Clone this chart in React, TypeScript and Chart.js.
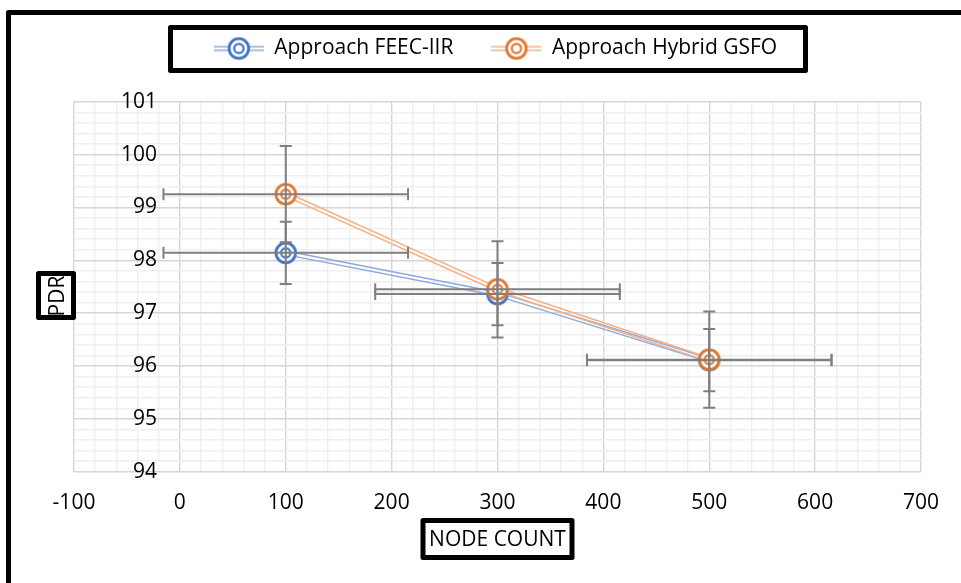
import { useEffect, useRef } from 'react';
import { Chart, registerables } from 'chart.js';

Chart.register(...registerables);

// ---- data ----
const NODE_COUNTS = [100, 300, 500];
const SERIES_NAMES = ['Approach FEEC-IIR', 'Approach Hybrid GSFO'];
const PDR_FEEC = [98.14, 97.36, 96.11];
const PDR_HYBRID = [99.25, 97.45, 96.12];
const X_ERR_FEEC = [115.5, 115.5, 115.5];
const X_ERR_HYBRID = [115.5, 115.5, 115.5];
const Y_ERR_FEEC = [0.59, 0.59, 0.59];
const Y_ERR_HYBRID = [0.91, 0.91, 0.91];
const X_TITLE = 'NODE COUNT';
const Y_TITLE = 'PDR';
const X_MIN = -100;
const X_MAX = 700;
const X_MAJOR = 100;
const X_MINOR = 20;
const Y_MIN = 94;
const Y_MAX = 101;
const Y_MAJOR = 1;
const Y_MINOR = 0.2;

// ---- styles ----
const FONT = "'Open Sans', sans-serif";
const FONT_SIZE = 21;
const RING = ['#4472C4', '#E0762F'];
const LINE = ['#8EA9DB', '#F4B183'];
const ERR_COLOR = '#7F7F7F';
const GRID_MAJOR = '#D6D6D6';
const GRID_MINOR = '#EFEFEF';

const SERIES = [PDR_FEEC, PDR_HYBRID];
const X_ERRS = [X_ERR_FEEC, X_ERR_HYBRID];
const Y_ERRS = [Y_ERR_FEEC, Y_ERR_HYBRID];

function isMajor(v: number, step: number) {
  const r = v / step;
  return Math.abs(r - Math.round(r)) < 1e-6;
}

function makeMarker(color: string) {
  const c = document.createElement('canvas');
  c.width = 28;
  c.height = 28;
  const g = c.getContext('2d')!;
  g.fillStyle = '#FFFFFF';
  g.beginPath();
  g.arc(14, 14, 11, 0, Math.PI * 2);
  g.fill();
  g.strokeStyle = color;
  g.lineWidth = 2.8;
  g.beginPath();
  g.arc(14, 14, 9.8, 0, Math.PI * 2);
  g.stroke();
  g.lineWidth = 2.2;
  g.beginPath();
  g.arc(14, 14, 4.7, 0, Math.PI * 2);
  g.stroke();
  return c;
}

function makeLegendIcon(lineColor: string, marker: HTMLCanvasElement) {
  const c = document.createElement('canvas');
  c.width = 50;
  c.height = 28;
  const g = c.getContext('2d')!;
  g.strokeStyle = lineColor;
  g.lineWidth = 1.5;
  [-1.8, 1.8].forEach((d) => {
    g.beginPath();
    g.moveTo(0, 14 + d);
    g.lineTo(50, 14 + d);
    g.stroke();
  });
  g.drawImage(marker, 11, 0);
  return c;
}

function offsetPoints(pts: { x: number; y: number }[], d: number) {
  const normals: { x: number; y: number }[] = [];
  for (let i = 0; i < pts.length - 1; i++) {
    const dx = pts[i + 1].x - pts[i].x;
    const dy = pts[i + 1].y - pts[i].y;
    const len = Math.hypot(dx, dy) || 1;
    normals.push({ x: -dy / len, y: dx / len });
  }
  return pts.map((p, i) => {
    const a = normals[Math.max(0, i - 1)];
    const b = normals[Math.min(normals.length - 1, i)];
    let mx = a.x + b.x;
    let my = a.y + b.y;
    const ml = Math.hypot(mx, my) || 1;
    mx /= ml;
    my /= ml;
    const k = d / (mx * b.x + my * b.y || 1);
    return { x: p.x + mx * k, y: p.y + my * k };
  });
}

function strokeBox(ctx: CanvasRenderingContext2D, x0: number, y0: number, x1: number, y1: number, lw: number) {
  ctx.save();
  ctx.strokeStyle = '#000';
  ctx.lineWidth = lw;
  ctx.lineJoin = 'round';
  ctx.strokeRect(x0 + lw / 2, y0 + lw / 2, x1 - x0 - lw, y1 - y0 - lw);
  ctx.restore();
}

const decorPlugin = {
  id: 'excelDecor',
  beforeDraw(chart: any) {
    const { ctx, width, height } = chart;
    ctx.save();
    ctx.fillStyle = '#FFFFFF';
    ctx.fillRect(0, 0, width, height);
    ctx.restore();
  },
  beforeDatasetDraw(chart: any, args: any) {
    const { ctx } = chart;
    const pts = args.meta.data.map((p: any) => ({ x: p.x, y: p.y }));
    if (pts.length < 2) return;
    ctx.save();
    ctx.strokeStyle = LINE[args.index];
    ctx.lineWidth = 1.5;
    ctx.lineJoin = 'round';
    [-1.8, 1.8].forEach((d) => {
      const o = offsetPoints(pts, d);
      ctx.beginPath();
      o.forEach((p, i) => (i ? ctx.lineTo(p.x, p.y) : ctx.moveTo(p.x, p.y)));
      ctx.stroke();
    });
    ctx.restore();
  },
  afterDatasetsDraw(chart: any) {
    const { ctx } = chart;
    const xs = chart.scales.x;
    const ys = chart.scales.y;
    const cap = 6;
    ctx.save();
    ctx.strokeStyle = ERR_COLOR;
    ctx.lineWidth = 2;
    SERIES.forEach((vals, di) => {
      vals.forEach((v, i) => {
        const xv = NODE_COUNTS[i];
        const px = xs.getPixelForValue(xv);
        const py = ys.getPixelForValue(v);
        const xl = xs.getPixelForValue(xv - X_ERRS[di][i]);
        const xr = xs.getPixelForValue(xv + X_ERRS[di][i]);
        const yt = ys.getPixelForValue(v + Y_ERRS[di][i]);
        const yb = ys.getPixelForValue(v - Y_ERRS[di][i]);
        ctx.beginPath();
        ctx.moveTo(xl, py);
        ctx.lineTo(xr, py);
        ctx.moveTo(xl, py - cap);
        ctx.lineTo(xl, py + cap);
        ctx.moveTo(xr, py - cap);
        ctx.lineTo(xr, py + cap);
        ctx.moveTo(px, yt);
        ctx.lineTo(px, yb);
        ctx.moveTo(px - cap, yt);
        ctx.lineTo(px + cap, yt);
        ctx.moveTo(px - cap, yb);
        ctx.lineTo(px + cap, yb);
        ctx.stroke();
      });
    });
    ctx.restore();
  },
  afterDraw(chart: any) {
    const { ctx, width, height } = chart;
    // outer frame (right/bottom edges run off the picture)
    strokeBox(ctx, 6, 10, width + 20, height + 20, 5);
    // legend frame
    strokeBox(ctx, 168, 25, 808, 73, 5);
    // y title
    strokeBox(ctx, 36, 271, 76, 320, 5);
    ctx.save();
    ctx.fillStyle = '#000';
    ctx.font = `${FONT_SIZE}px ${FONT}`;
    ctx.textAlign = 'center';
    ctx.textBaseline = 'middle';
    ctx.translate(57, 296);
    ctx.rotate(-Math.PI / 2);
    ctx.fillText(Y_TITLE, 0, 1);
    ctx.restore();
    // x title
    const cx = (chart.chartArea.left + chart.chartArea.right) / 2;
    strokeBox(ctx, cx - 77, 518, cx + 77, 560, 5);
    ctx.save();
    ctx.fillStyle = '#000';
    ctx.font = `${FONT_SIZE}px ${FONT}`;
    ctx.textAlign = 'center';
    ctx.textBaseline = 'middle';
    ctx.fillText(X_TITLE, cx, 540);
    ctx.restore();
  },
};

export default function App() {
  const ref = useRef<HTMLCanvasElement | null>(null);

  useEffect(() => {
    if (!ref.current) return;
    const markers = RING.map((c) => makeMarker(c));
    const icons = markers.map((m, i) => makeLegendIcon(LINE[i], m));

    const chart = new Chart(ref.current, {
      type: 'scatter',
      data: {
        datasets: SERIES.map((vals, i) => ({
          label: SERIES_NAMES[i],
          data: vals.map((v, j) => ({ x: NODE_COUNTS[j], y: v })),
          showLine: false,
          pointStyle: markers[i] as any,
          pointRadius: 10,
          order: SERIES.length - i,
        })),
      },
      options: {
        responsive: true,
        maintainAspectRatio: false,
        animation: false,
        events: [],
        layout: { padding: { left: 70, right: 40, top: 0, bottom: 67.3 } },
        plugins: {
          legend: {
            position: 'top',
            align: 'center',
            labels: {
              usePointStyle: true,
              pointStyleWidth: 50,
              padding: 38,
              color: '#000',
              font: { family: FONT, size: FONT_SIZE },
              generateLabels: () =>
                SERIES_NAMES.map((t, i) => ({
                  text: t,
                  pointStyle: icons[i] as any,
                  fillStyle: 'rgba(0,0,0,0)',
                  strokeStyle: 'rgba(0,0,0,0)',
                  lineWidth: 0,
                  hidden: false,
                  datasetIndex: i,
                  fontColor: '#000',
                })),
            },
          },
          title: {
            display: true,
            text: '',
            weight: 500,
            font: { size: 10, lineHeight: 1 },
            padding: { top: 0, bottom: 22.7 },
          } as any,
          tooltip: { enabled: false },
        },
        scales: {
          x: {
            type: 'linear',
            position: 'bottom',
            min: X_MIN,
            max: X_MAX,
            afterFit: (s: any) => {
              s.height = 44;
            },
            border: { display: false },
            grid: {
              drawTicks: false,
              lineWidth: 1.4,
              color: (c: any) => (c.tick && isMajor(c.tick.value, X_MAJOR) ? GRID_MAJOR : GRID_MINOR),
            },
            ticks: {
              stepSize: X_MINOR,
              autoSkip: false,
              maxRotation: 0,
              minRotation: 0,
              padding: 19,
              color: '#000',
              font: { family: FONT, size: FONT_SIZE },
              callback: (v: any) => (isMajor(Number(v), X_MAJOR) ? String(Math.round(Number(v))) : ''),
            },
          },
          y: {
            type: 'linear',
            position: 'left',
            min: Y_MIN,
            max: Y_MAX,
            afterFit: (s: any) => {
              s.width = 4;
            },
            border: { display: false },
            grid: {
              drawTicks: false,
              lineWidth: 1.4,
              color: (c: any) => (c.tick && isMajor(c.tick.value, Y_MAJOR) ? GRID_MAJOR : GRID_MINOR),
            },
            ticks: {
              stepSize: Y_MINOR,
              autoSkip: false,
              mirror: true,
              crossAlign: 'far',
              padding: 47,
              color: '#000',
              font: { family: FONT, size: FONT_SIZE },
              callback: (v: any) => (isMajor(Number(v), Y_MAJOR) ? String(Math.round(Number(v))) : ''),
            },
          },
        },
      },
      plugins: [decorPlugin],
    });
    return () => chart.destroy();
  }, []);

  return (
    <div style={{ position: 'absolute', left: 0, top: 0, width: 961, height: 583 }}>
      <canvas ref={ref} />
    </div>
  );
}
